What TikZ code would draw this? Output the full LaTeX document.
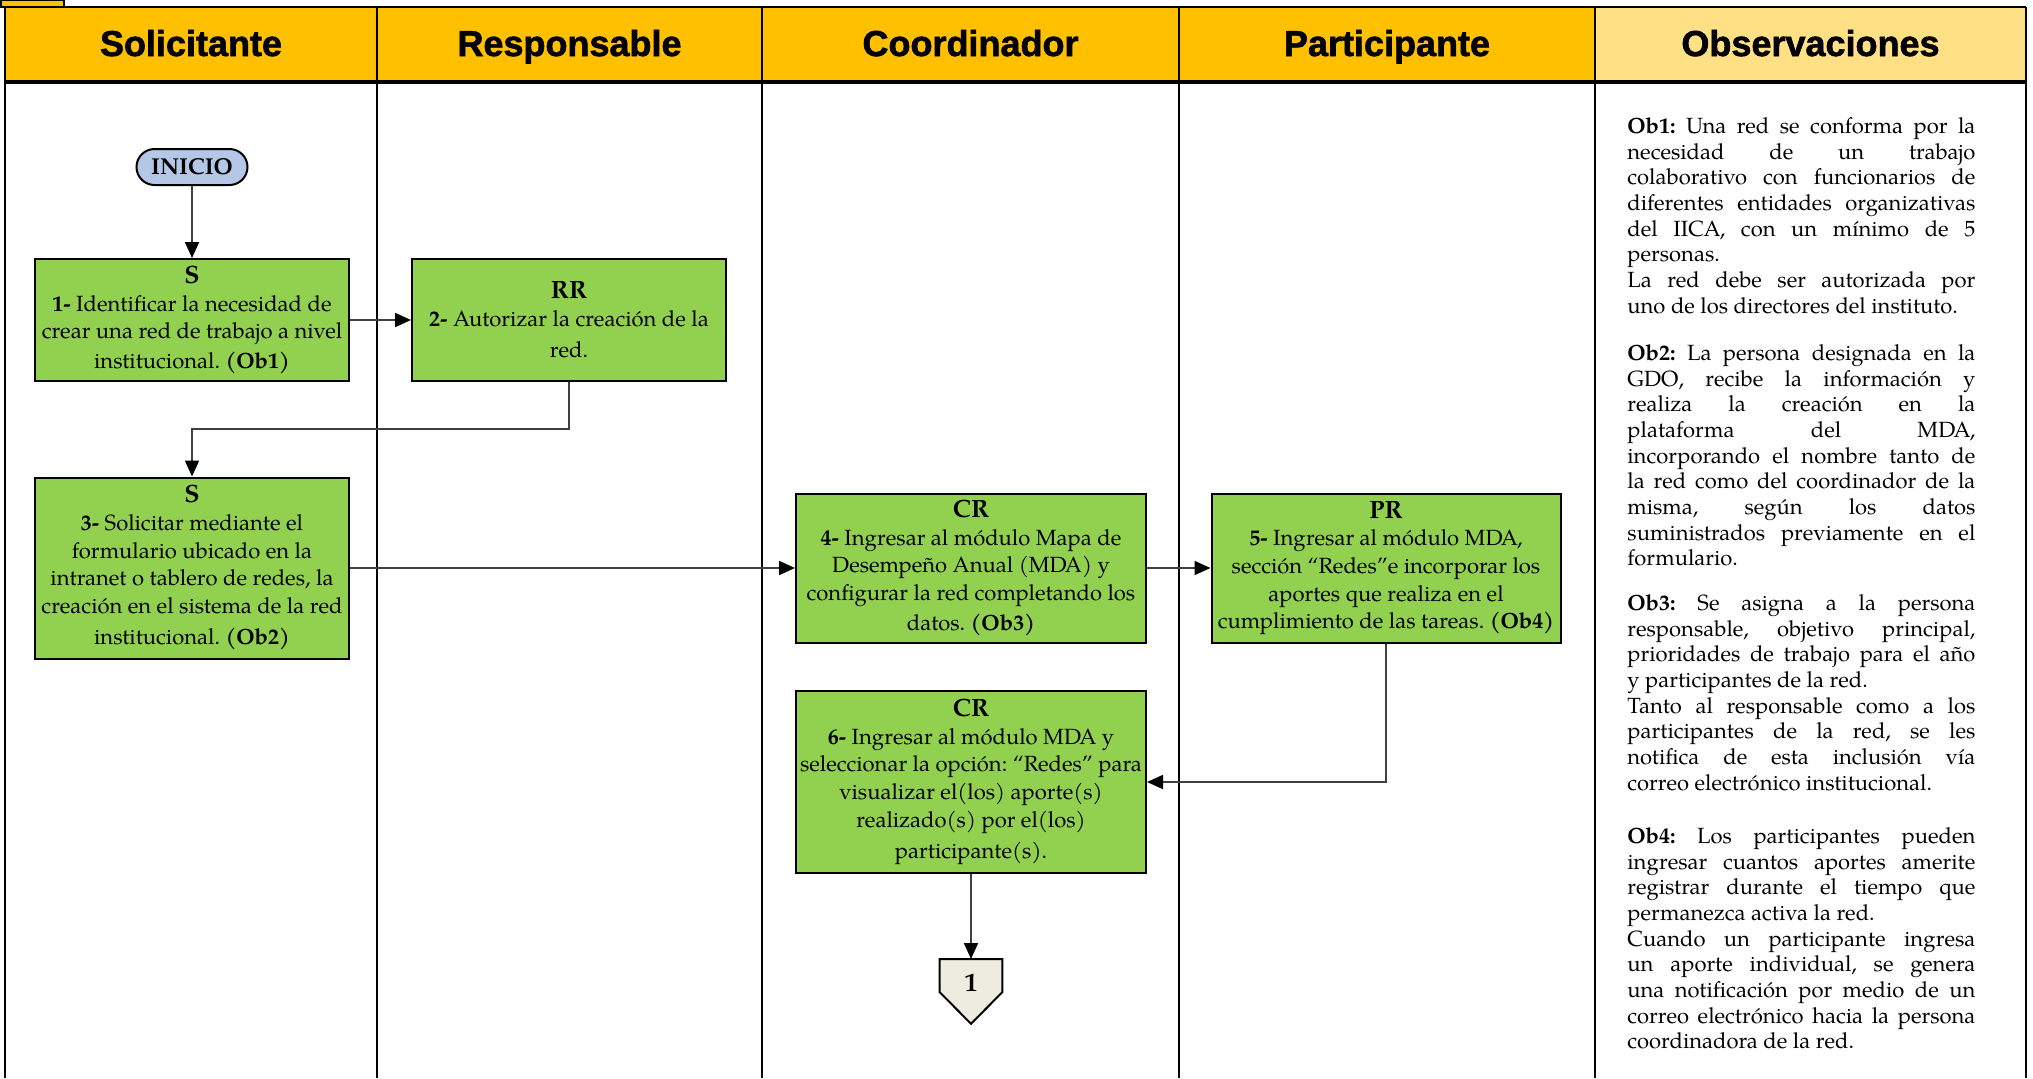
\documentclass[tikz,border=0pt]{standalone}
\usepackage{fontspec}
\setmainfont{TeX Gyre Pagella}
\newfontfamily\hdrfont{Liberation Sans}[BoldFeatures={FakeBold=1.6}]
\usetikzlibrary{arrows.meta,calc}
\definecolor{hdryel}{HTML}{FFC000}
\definecolor{obsyel}{HTML}{FFE084}
\definecolor{boxgreen}{HTML}{92D050}
\definecolor{startblue}{HTML}{B4C7E7}
\definecolor{conbeige}{HTML}{EEECE1}
\definecolor{arrgray}{HTML}{404040}
\newcommand\jl[1]{\makebox[174pt][s]{#1}}
\newcommand\bh[1]{{\bfseries\fontsize{12.5}{13.8}\selectfont #1}}
\tikzset{
  lane/.style={line width=1.3pt,black},
  hdr/.style={anchor=base,font=\hdrfont\bfseries\fontsize{18}{20}\selectfont},
  stepbox/.style={draw=black,line width=1pt,fill=boxgreen,align=center,
     font=\fontsize{11}{13.8}\selectfont,inner sep=2pt},
  startnode/.style={draw=black,line width=1pt,fill=startblue,rounded corners=9pt,
     minimum width=55.5pt,minimum height=18pt,font=\bfseries\fontsize{11.5}{13}\selectfont,inner sep=1pt},
  flow/.style={arrgray,line width=0.9pt,-{Triangle[length=8pt,width=7pt,fill=black,color=black]}},
  obs/.style={anchor=north west,align=left,inner sep=0pt,font=\fontsize{11}{12.85}\selectfont},
}
\begin{document}
\frenchspacing
\begin{tikzpicture}[x=0.5pt,y=-0.5pt]
\useasboundingbox (0,0) rectangle (2033,1078);
% header band
\fill[hdryel] (5,8) rectangle (1595,82);
\fill[obsyel] (1595,8) rectangle (2026,82);
\draw[line width=1pt,fill=hdryel] (1,0) rectangle (64,7);
\draw[line width=1pt] (64,7) -- (2026,7);
\draw[line width=2pt] (5,82) -- (2026,82);
% lane lines
\foreach \x in {5,377,762,1179,1595,2026}
  \draw[lane] (\x,7) -- (\x,1078);
% header texts
\node[hdr] (h1) at (191,56) {Solicitante};
\node[hdr] (h2) at (569.5,56) {Responsable};
\node[hdr] (h3) at (970.5,56) {Coordinador};
\node[hdr] (h4) at (1387,56) {Participante};
\node[hdr] (h5) at (1810.5,56) {Observaciones};
% nodes
\node[startnode] (ini) at (192,167) {INICIO};
\node[stepbox,minimum width=157pt,minimum height=61pt] (b1) at (192,320)
  {\bh{S}\\ \textbf{1-} Identificar la necesidad de\\ crear una red de trabajo a nivel\\[1pt] institucional. \textbf{(Ob1)}};
\node[stepbox,minimum width=157pt,minimum height=61pt] (b2) at (569,320)
  {\bh{RR}\\ \textbf{2-} Autorizar la creación de la\\[2pt] red.};
\node[stepbox,minimum width=157pt,minimum height=90.5pt] (b3) at (192,568)
  {\bh{S}\\ \textbf{3-} Solicitar mediante el\\ formulario ubicado en la\\ intranet o tablero de redes, la\\ creación en el sistema de la red\\[2pt] institucional. \textbf{(Ob2)}};
\node[stepbox,minimum width=175pt,minimum height=74.5pt] (b4) at (971,568)
  {\bh{CR}\\ \textbf{4-} Ingresar al módulo Mapa de\\ Desempeño Anual (MDA) y\\ configurar la red completando los\\[1pt] datos. \textbf{(Ob3)}};
\node[stepbox,minimum width=174.5pt,minimum height=74.5pt] (b5) at (1386,568)
  {\bh{PR}\\ \textbf{5-} Ingresar al módulo MDA,\\ sección “Redes”e incorporar los\\ aportes que realiza en el\\ cumplimiento de las tareas. \textbf{(Ob4)}};
\node[stepbox,minimum width=175pt,minimum height=91pt] (b6) at (971,782)
  {\bh{CR}\\ \textbf{6-} Ingresar al módulo MDA y\\ seleccionar la opción: “Redes” para\\ visualizar el(los) aporte(s)\\ realizado(s) por el(los)\\[2pt] participante(s).};
% off-page connector
\node[minimum width=31pt,minimum height=32pt,inner sep=0pt,anchor=north] (con) at (971,959) {};
\draw[line width=1pt,fill=conbeige] (con.north west) -- (con.north east)
  -- ($(con.north east)+(0,33)$) -- (con.south) -- ($(con.north west)+(0,33)$) -- cycle;
\node[font=\bfseries\fontsize{13}{15}\selectfont] (conlbl) at ($(con.north)+(0,24)$) {1};
% connectors
\draw[flow] (ini.south) -- (b1.north);
\draw[flow] (b1.east) -- (b2.west);
\draw[flow] (b2.south) -- ++(0,47) -| (b3.north);
\draw[flow] (b3.east) -- (b4.west);
\draw[flow] (b4.east) -- (b5.west);
\draw[flow] (b5.south) |- (b6.east);
\draw[flow] (b6.south) -- (con.north);
% observations
\node[obs] (ob1) at (1627,117) {%
\jl{\textbf{Ob1:} Una red se conforma por la}\\
\jl{necesidad de un trabajo}\\
\jl{colaborativo con funcionarios de}\\
\jl{diferentes entidades organizativas}\\
\jl{del IICA, con un mínimo de 5}\\
personas.\\
\jl{La red debe ser autorizada por}\\
uno de los directores del instituto.};
\node[obs] (ob2) at (1627,344) {%
\jl{\textbf{Ob2:} La persona designada en la}\\
\jl{GDO, recibe la información y}\\
\jl{realiza la creación en la}\\
\jl{plataforma del MDA,}\\
\jl{incorporando el nombre tanto de}\\
\jl{la red como del coordinador de la}\\
\jl{misma, según los datos}\\
\jl{suministrados previamente en el}\\
formulario.};
\node[obs] (ob3) at (1627,594) {%
\jl{\textbf{Ob3:} Se asigna a la persona}\\
\jl{responsable, objetivo principal,}\\
\jl{prioridades de trabajo para el año}\\
y participantes de la red.\\
\jl{Tanto al responsable como a los}\\
\jl{participantes de la red, se les}\\
\jl{notifica de esta inclusión vía}\\
correo electrónico institucional.};
\node[obs] (ob4) at (1627,827) {%
\jl{\textbf{Ob4:} Los participantes pueden}\\
\jl{ingresar cuantos aportes amerite}\\
\jl{registrar durante el tiempo que}\\
permanezca activa la red.\\
\jl{Cuando un participante ingresa}\\
\jl{un aporte individual, se genera}\\
\jl{una notificación por medio de un}\\
\jl{correo electrónico hacia la persona}\\
coordinadora de la red.};
\end{tikzpicture}
\end{document}
